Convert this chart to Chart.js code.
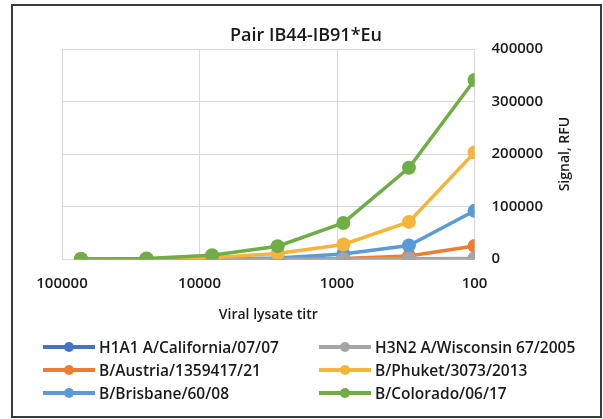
<!DOCTYPE html>
<html>
<head>
<meta charset="utf-8">
<script src="https://cdn.jsdelivr.net/npm/chart.js@4.4.1/dist/chart.umd.min.js"></script>
<style>
  body { margin: 0; background: #fff; font-family: 'Open Sans', sans-serif; }
  #wrap { position: relative; width: 603px; height: 419px; }
  #frame { position: absolute; left: 11px; top: 4px; width: 591px; height: 414px; box-sizing: border-box; border: 2px solid #3a3a3a; }
  #box { position: absolute; left: 0; top: 0; width: 603px; height: 330px; }
  #legend { position: absolute; left: 0; top: 0; width: 603px; height: 419px; }
  .item { position: absolute; height: 20px; display: flex; align-items: center; font-size: 15.5px; font-weight: 600; color: #1a1a1a; white-space: nowrap; }
  .sw { position: relative; width: 52px; height: 4px; margin-right: 4px; }
  .sw i { position: absolute; left: 21px; top: -3px; width: 10px; height: 10px; border-radius: 50%; }
</style>
</head>
<body>
<div id="wrap">
  <div id="frame"></div>
  <div id="box"><canvas id="myChart"></canvas></div>
  <div id="legend"></div>
</div>
<script>
// titr values (dilutions)
let titr = [72900, 24300, 8100, 2700, 900, 300, 100];
let xTicks = [100000, 10000, 1000, 100];
let yTicks = [0, 100000, 200000, 300000, 400000];

let nombres = ['H1A1 A/California/07/07', 'B/Austria/1359417/21', 'B/Brisbane/60/08',
               'H3N2 A/Wisconsin 67/2005', 'B/Phuket/3073/2013', 'B/Colorado/06/17'];

let h1a1     = [0, 0, 0, 0, 200, 500, 1000];
let austria  = [0, 0, 100, 500, 1500, 6000, 25000];
let brisbane = [100, 200, 500, 2500, 10000, 26000, 92000];
let h3n2     = [0, 0, 0, 0, 300, 800, 1500];
let phuket   = [200, 500, 3000, 11000, 28000, 71000, 203000];
let colorado = [500, 1300, 7600, 24800, 69000, 174000, 341000];

let series = [h1a1, austria, brisbane, h3n2, phuket, colorado];
let colores = ['#4472C4', '#ED7D31', '#5B9BD5', '#A5A5A5', '#F5B53A', '#70AD47'];

Chart.defaults.font.family = "'Open Sans', sans-serif";
Chart.defaults.font.weight = '600';
Chart.defaults.color = '#1a1a1a';

// titulo arriba y titulo del eje Y (leido de abajo hacia arriba)
const titulos = {
    id: 'titulos',
    afterDraw(chart) {
        let s = chart.scales.y;
        let c = chart.ctx;
        c.save();
        c.fillStyle = '#1a1a1a';
        c.textAlign = 'center';
        c.font = "600 18px 'Open Sans', sans-serif";
        c.textBaseline = 'alphabetic';
        c.fillText('Pair IB44-IB91*Eu', 306, 41);
        c.translate(s.right - 25, (chart.chartArea.top + chart.chartArea.bottom) / 2);
        c.rotate(-Math.PI / 2);
        c.font = "600 14px 'Open Sans', sans-serif";
        c.textBaseline = 'middle';
        c.fillText('Signal, RFU', 0, 0);
        c.restore();
    }
};

let datasets = series.map((d, i) => ({
    label: nombres[i],
    data: d.map((v, j) => ({ x: titr[j], y: v })),
    borderColor: colores[i],
    backgroundColor: colores[i],
    borderWidth: 3.5,
    pointRadius: 7,
    pointHoverRadius: 7,
    pointBorderWidth: 0,
    order: series.length - i
}));

let ctx = document.getElementById('myChart').getContext('2d');
let myChart = new Chart(ctx, {
    type: 'line',
    data: { datasets: datasets },
    options: {
        responsive: true,
        maintainAspectRatio: false,
        animation: false,
        layout: { padding: { top: 49, left: 62, right: 13, bottom: 7 } },
        plugins: {
            legend: { display: false },
            tooltip: { enabled: false },
            title: { display: false }
        },
        scales: {
            x: {
                type: 'logarithmic',
                reverse: true,
                min: 100,
                max: 100000,
                afterBuildTicks: (s) => { s.ticks = xTicks.map(v => ({ value: v })); },
                ticks: { font: { size: 15 }, padding: 16, maxRotation: 0, autoSkip: false,
                         callback: (v) => String(v) },
                grid: { color: '#d9d9d9', drawTicks: false },
                border: { color: '#d9d9d9' },
                title: { display: true, text: 'Viral lysate titr', font: { size: 14 },
                         padding: { top: -3, bottom: 0 } }
            },
            y: {
                position: 'right',
                min: 0,
                max: 400000,
                afterBuildTicks: (s) => { s.ticks = yTicks.map(v => ({ value: v })); },
                afterFit: (s) => { s.width += 30; },
                ticks: { font: { size: 15 }, padding: 17, callback: (v) => String(v) },
                grid: { color: '#d9d9d9', drawTicks: false },
                border: { color: '#d9d9d9' }
            }
        }
    },
    plugins: [titulos]
});

// leyenda en dos columnas
let leyenda = document.getElementById('legend');
let pos = [[43, 337], [43, 360], [43, 383], [319, 337], [319, 360], [319, 383]];
nombres.forEach((n, i) => {
    let it = document.createElement('div');
    it.className = 'item';
    it.style.left = pos[i][0] + 'px';
    it.style.top = pos[i][1] + 'px';
    it.innerHTML = '<span class="sw" style="background:' + colores[i] + '"><i style="background:' +
                   colores[i] + '"></i></span>' + n;
    leyenda.appendChild(it);
});
</script>
</body>
</html>
